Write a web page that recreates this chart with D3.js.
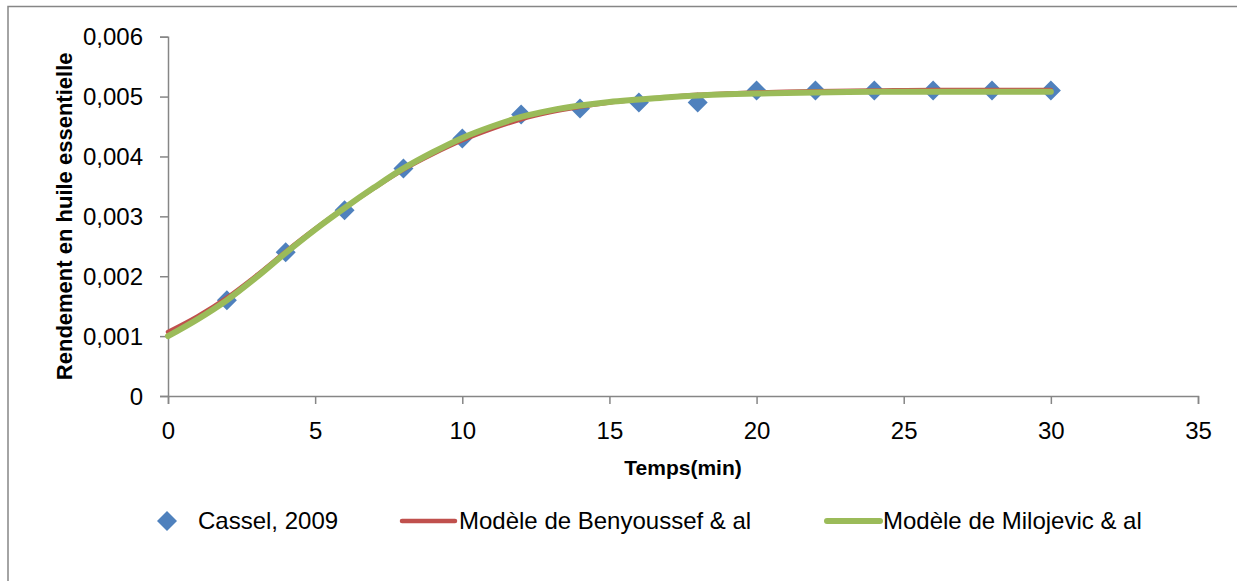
<!DOCTYPE html>
<html>
<head>
<meta charset="utf-8">
<script src="https://cdn.jsdelivr.net/npm/d3@7"></script>
<style>
  html, body { margin: 0; padding: 0; background: #fff; }
  svg { display: block; font-family: "Liberation Sans", Arial, sans-serif; }
</style>
</head>
<body>
<svg id="chart" width="1237" height="581"></svg>
<script>
// ---- data ----
const casselT = [2, 4, 6, 8, 10, 12, 14, 16, 18, 20, 22, 24, 26, 28, 30];
const casselY = [0.0016, 0.0024, 0.0031, 0.0038, 0.0043, 0.0047, 0.0048, 0.0049, 0.0049, 0.0051, 0.0051, 0.0051, 0.0051, 0.0051, 0.0051];

const modelT = [0, 1, 2, 3, 4, 5, 6, 7, 8, 9, 10, 11, 12, 13, 14, 15, 16, 17, 18, 19, 20, 21, 22, 24, 26, 28, 30];
const benyoussefY = [0.00107, 0.00133, 0.00164, 0.00201, 0.00241, 0.00279, 0.00314, 0.00347, 0.00378, 0.00404, 0.00427, 0.00446, 0.00462, 0.00474, 0.00483, 0.00490, 0.00495, 0.00499, 0.00503, 0.00505, 0.00507, 0.00508, 0.00509, 0.00510, 0.00511, 0.00511, 0.00511];
const milojevicY = [0.00100, 0.00128, 0.00160, 0.00198, 0.00239, 0.00278, 0.00314, 0.00348, 0.00380, 0.00407, 0.00431, 0.00450, 0.00466, 0.00477, 0.00485, 0.00491, 0.00495, 0.00499, 0.00502, 0.00504, 0.00505, 0.00506, 0.00507, 0.00508, 0.00508, 0.00508, 0.00508];

const xTicks = [0, 5, 10, 15, 20, 25, 30, 35];
const yTicks = [0, 0.001, 0.002, 0.003, 0.004, 0.005, 0.006];
const yTickLabels = ["0", "0,001", "0,002", "0,003", "0,004", "0,005", "0,006"];

const seriesNames = ["Cassel, 2009", "Modèle de Benyoussef & al", "Modèle de Milojevic & al"];
const colors = { cassel: "#4F81BD", beny: "#C0504D", milo: "#9BBB59" };

// ---- layout ----
const svg = d3.select("#chart");
const axisColor = "#868686";

// outer chart border (extends beyond the visible frame)
svg.append("rect")
  .attr("x", 8).attr("y", 6.5)
  .attr("width", 1300).attr("height", 700)
  .attr("fill", "#fff")
  .attr("stroke", axisColor).attr("stroke-width", 1.5);

const x = d3.scaleLinear().domain([0, 35]).range([168, 1198]);
const y = d3.scaleLinear().domain([0, 0.006]).range([396, 36.7]);

// y axis
const yAxis = d3.axisLeft(y).tickValues(yTicks).tickSize(8).tickPadding(0)
  .tickFormat((d, i) => yTickLabels[i]);
const gy = svg.append("g").attr("transform", `translate(${x(0)},0)`).call(yAxis);
gy.select(".domain").attr("stroke", axisColor).attr("stroke-width", 1.5);
gy.selectAll(".tick line").attr("stroke", axisColor).attr("stroke-width", 1.5);
gy.selectAll(".tick text")
  .attr("font-size", 24).attr("fill", "#000")
  .attr("font-family", "Liberation Sans, Arial, sans-serif")
  .attr("x", -25).attr("dy", "0.34em");

// x axis
const xAxis = d3.axisBottom(x).tickValues(xTicks).tickSize(8).tickPadding(0)
  .tickFormat(d => String(d));
const gx = svg.append("g").attr("transform", `translate(0,${y(0)})`).call(xAxis);
gx.select(".domain").attr("stroke", axisColor).attr("stroke-width", 1.5);
gx.selectAll(".tick line").attr("stroke", axisColor).attr("stroke-width", 1.5);
gx.selectAll(".tick text")
  .attr("font-size", 24).attr("fill", "#000")
  .attr("font-family", "Liberation Sans, Arial, sans-serif")
  .attr("y", 43).attr("dy", 0);

// axis titles
svg.append("text")
  .attr("x", (x(0) + x(35)) / 2).attr("y", 475)
  .attr("text-anchor", "middle")
  .attr("font-size", 21).attr("font-weight", "bold")
  .text("Temps(min)");

svg.append("text")
  .attr("transform", `translate(72,${(y(0) + y(0.006)) / 2}) rotate(-90)`)
  .attr("text-anchor", "middle")
  .attr("font-size", 22).attr("font-weight", "bold")
  .text("Rendement en huile essentielle");

// lines
const line = d3.line().x(d => x(d[0])).y(d => y(d[1])).curve(d3.curveMonotoneX);
const benyData = modelT.map((t, i) => [t, benyoussefY[i]]);
const miloData = modelT.map((t, i) => [t, milojevicY[i]]);

// markers (drawn first, lines on top like Excel series order? markers under lines)
const diamond = d3.symbol().type(d3.symbolDiamond2);
const markerPath = (cx, cy, r) => `M${cx},${cy - r}L${cx + r},${cy}L${cx},${cy + r}L${cx - r},${cy}Z`;

svg.append("g").selectAll("path")
  .data(casselT.map((t, i) => [t, casselY[i]]))
  .join("path")
  .attr("d", d => markerPath(x(d[0]), y(d[1]), 10))
  .attr("fill", colors.cassel);

svg.append("path").datum(benyData)
  .attr("d", line).attr("fill", "none")
  .attr("stroke", colors.beny).attr("stroke-width", 4.5)
  .attr("stroke-linecap", "round").attr("stroke-linejoin", "round");

svg.append("path").datum(miloData)
  .attr("d", line).attr("fill", "none")
  .attr("stroke", colors.milo).attr("stroke-width", 6)
  .attr("stroke-linecap", "round").attr("stroke-linejoin", "round");

// legend
const legY = 521;
const leg = svg.append("g");
leg.append("path").attr("d", markerPath(167, legY, 10)).attr("fill", colors.cassel);
leg.append("text").attr("x", 198).attr("y", legY).attr("dy", "0.35em")
  .attr("font-size", 24).text(seriesNames[0]);

leg.append("line").attr("x1", 402).attr("x2", 455).attr("y1", legY).attr("y2", legY)
  .attr("stroke", colors.beny).attr("stroke-width", 4.5).attr("stroke-linecap", "round");
leg.append("text").attr("x", 459).attr("y", legY).attr("dy", "0.35em")
  .attr("font-size", 24).text(seriesNames[1]);

leg.append("line").attr("x1", 827).attr("x2", 880).attr("y1", legY).attr("y2", legY)
  .attr("stroke", colors.milo).attr("stroke-width", 6).attr("stroke-linecap", "round");
leg.append("text").attr("x", 883).attr("y", legY).attr("dy", "0.35em")
  .attr("font-size", 24).text(seriesNames[2]);
</script>
</body>
</html>
